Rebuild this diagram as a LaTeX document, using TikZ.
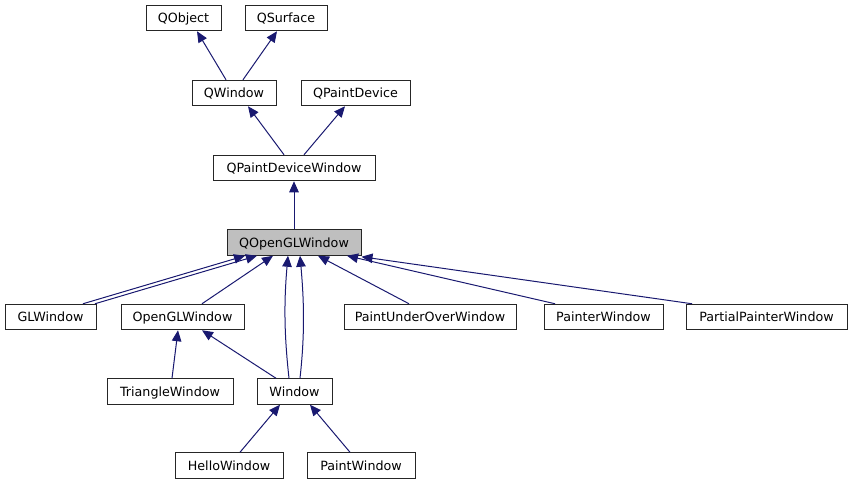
\documentclass[tikz,border=0pt]{standalone}
\usepackage{fontspec}
\setmainfont{DejaVu Sans}
\usetikzlibrary{arrows.meta}
\definecolor{edgeblue}{RGB}{25,25,112}
\definecolor{boxgray}{RGB}{191,191,191}
\tikzset{
  cls/.style={draw=black!85, line width=1pt, fill=white, inner sep=0pt,
    minimum height=25.5pt, text height=11pt, text depth=1.5pt,
    font=\fontsize{12.7}{14}\selectfont, text=black},
  hl/.style={cls, fill=boxgray},
  edge/.style={draw=edgeblue, line width=1pt,
    -{Triangle[length=11pt,width=9.5pt]}},
}
\begin{document}
\begin{tikzpicture}[x=1pt,y=-1pt]
\useasboundingbox (0,0) rectangle (852,485);
\node[cls, minimum width=75pt] (qobject) at (183.5,18) {QObject};
\node[cls, minimum width=82pt] (qsurface) at (286,18) {QSurface};
\node[cls, minimum width=84pt] (qwindow) at (234,93) {QWindow};
\node[cls, minimum width=109pt] (qpaintdevice) at (355.5,93) {QPaintDevice};
\node[cls, minimum width=162pt] (qpdw) at (294,168) {QPaintDeviceWindow};
\node[hl, minimum width=134pt] (qogl) at (294,242.5) {QOpenGLWindow};
\node[cls, minimum width=91pt] (glwindow) at (50.5,317) {GLWindow};
\node[cls, minimum width=123pt] (openglwindow) at (182.5,317) {OpenGLWindow};
\node[cls, minimum width=172pt] (puow) at (430,317) {PaintUnderOverWindow};
\node[cls, minimum width=119pt] (painter) at (603.5,317) {PainterWindow};
\node[cls, minimum width=161pt] (partial) at (766.5,317) {PartialPainterWindow};
\node[cls, minimum width=126pt] (triangle) at (170,391.5) {TriangleWindow};
\node[cls, minimum width=75pt] (window) at (294.5,391.5) {Window};
\node[cls, minimum width=108pt] (hello) at (229,465.5) {HelloWindow};
\node[cls, minimum width=108pt] (paintw) at (361,465.5) {PaintWindow};

\draw[edge] ([xshift=-8pt]qwindow.north) -- ([xshift=13.5pt]qobject.south);
\draw[edge] ([xshift=9pt]qwindow.north) -- ([xshift=-9pt]qsurface.south);
\draw[edge] ([xshift=-10pt]qpdw.north) -- ([xshift=14pt]qwindow.south);
\draw[edge] ([xshift=10pt]qpdw.north) -- ([xshift=-10.5pt]qpaintdevice.south);
\draw[edge] (qogl.north) -- (qpdw.south);
\draw[edge] ([xshift=32.5pt]glwindow.north) -- ([xshift=-49pt]qogl.south);
\draw[edge] ([xshift=44.5pt]glwindow.north) -- ([xshift=-37pt]qogl.south);
\draw[edge] ([xshift=19.5pt]openglwindow.north) -- ([xshift=-21pt]qogl.south);
\draw[edge] ([xshift=-5.5pt]window.north) .. controls +(-5,-45) and +(-4,45) .. ([xshift=-6pt]qogl.south);
\draw[edge] ([xshift=5.5pt]window.north) .. controls +(5,-45) and +(4,45) .. ([xshift=6pt]qogl.south);
\draw[edge] ([xshift=-21pt]puow.north) -- ([xshift=24pt]qogl.south);
\draw[edge] ([xshift=-48.5pt]painter.north) -- ([xshift=53pt]qogl.south);
\draw[edge] ([xshift=-74.5pt]partial.north) -- ([yshift=-1pt]qogl.south east);
\draw[edge] ([xshift=2pt]triangle.north) -- ([xshift=-4.5pt]openglwindow.south);
\draw[edge] ([xshift=-18.5pt]window.north) -- ([xshift=19.5pt]openglwindow.south);
\draw[edge] ([xshift=11pt]hello.north) -- ([xshift=-14.5pt]window.south);
\draw[edge] ([xshift=-11pt]paintw.north) -- ([xshift=15.5pt]window.south);
\end{tikzpicture}
\end{document}
